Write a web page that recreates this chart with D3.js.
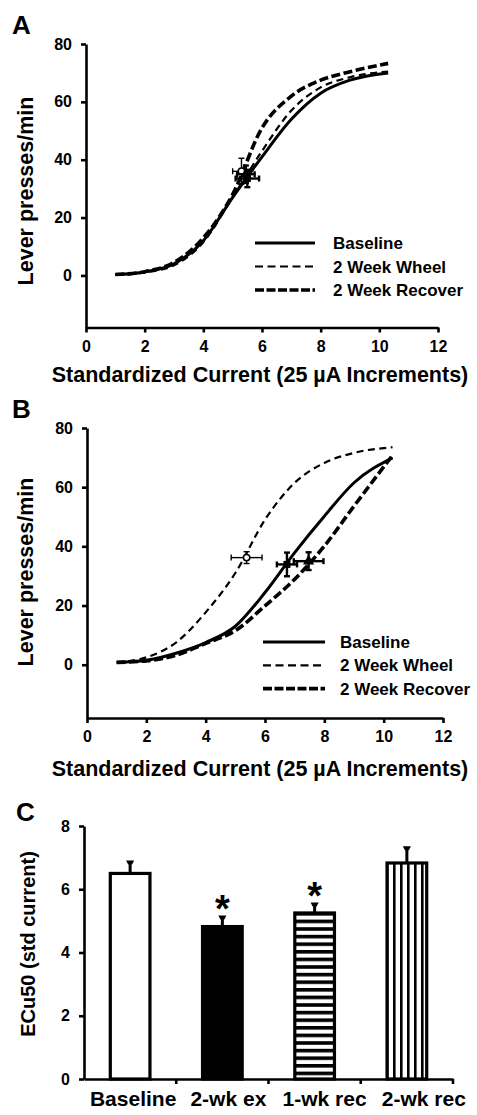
<!DOCTYPE html>
<html><head><meta charset="utf-8">
<script src="https://cdn.jsdelivr.net/npm/d3@7"></script>
<style>
body{margin:0;background:#fff;}
text{font-family:"Liberation Sans",Arial,sans-serif;font-weight:bold;fill:#000;}
</style></head>
<body><svg id="c" width="477" height="1115"></svg>
<script>
// ---------- data ----------
const xGrid = [1,2,3,4,5,6,7,8,9,10.3];
// Panel A curves
const baselineA = [0.3,1.2,4,12,27,41,54,63,67.5,70];
const wheelA    = [0.2,1.0,3.5,11.5,27,43,57,65,68.5,70.5];
const recoverA  = [0.3,1.3,4.5,13,28,51,62,67.5,70.4,73.3];
// Panel B curves
const baselineB = [0.8,1.5,3.9,7.5,13,24.4,37.9,50.2,61.5,69.9];
const wheelB    = [0.8,2.5,7.5,17.7,31,49,61.5,68.2,71.6,73.5];
const recoverB  = [0.8,1.3,3.2,7.2,11.5,19.9,28.9,40.1,53.6,70.8];
// EC50 points (x, y, x error, y error): baseline, wheel, recover
const ptsAx = [5.5,5.3,5.45], ptsAy = [33.5,36,35], ptsAxe = [0.4,0.3,0.3], ptsAye = [3,4.5,3];
const ptsBx = [6.74,5.38,7.47], ptsBy = [33.9,36.2,35], ptsBxe = [0.34,0.52,0.5], ptsBye = [4,2,3];
const seriesNames = ["Baseline","2 Week Wheel","2 Week Recover"];
const xTicks = [0,2,4,6,8,10,12];
const yTicks = [0,20,40,60,80];
// Panel C bars
const barCats = ["Baseline","2-wk ex","1-wk rec","2-wk rec"];
const barVals = [6.5,4.82,5.25,6.83];
const barErr  = [0.38,0.32,0.3,0.5];
const barSig  = [false,true,true,false];
const cTicks = [0,2,4,6,8];

const svg = d3.select("#c");
const defs = svg.append("defs");
const ph = defs.append("pattern").attr("id","hstripe").attr("patternUnits","userSpaceOnUse")
  .attr("width",10).attr("height",7.6);
ph.append("rect").attr("width",10).attr("height",7.6).attr("fill","#fff");
ph.append("rect").attr("width",10).attr("height",3.6).attr("fill","#000");
const pv = defs.append("pattern").attr("id","vstripe").attr("patternUnits","userSpaceOnUse")
  .attr("width",7).attr("height",10).attr("x",1);
pv.append("rect").attr("width",7).attr("height",10).attr("fill","#fff");
pv.append("rect").attr("width",2.6).attr("height",10).attr("fill","#000");

const styles = [
  {w:3, dash:null},
  {w:2.2, dash:"7,4.5"},
  {w:3.6, dash:"9,3.5"}
];

function styleAxis(a, size){
  a.select(".domain").attr("stroke","#000").attr("stroke-width",2.6);
  a.selectAll(".tick line").attr("stroke","#000").attr("stroke-width",2.6);
  a.selectAll(".tick text").style("font-size",size).style("font-family","Liberation Sans, Arial")
    .style("font-weight","bold").attr("fill","#000");
}

function curvePanel(o){
  const x = d3.scaleLinear().domain([0,12]).range([o.x0,o.x1]);
  const y = d3.scaleLinear().domain([-18,80]).range([o.yb,o.yt]);
  const g = svg.append("g");
  const ax = g.append("g").attr("transform",`translate(0,${o.yb})`)
    .call(d3.axisBottom(x).tickValues(xTicks).tickSize(5).tickSizeOuter(0).tickPadding(8));
  const ay = g.append("g").attr("transform",`translate(${o.x0},0)`)
    .call(d3.axisLeft(y).tickValues(yTicks).tickSize(5).tickSizeOuter(0).tickPadding(9));
  styleAxis(ax,"16px"); styleAxis(ay,"16px");
  const line = d3.line().x((d,i)=>x(xGrid[i])).y(d=>y(d)).curve(d3.curveMonotoneX);
  o.curves.forEach((c,i)=>{
    g.append("path").attr("d",line(c)).attr("fill","none").attr("stroke","#000")
      .attr("stroke-width",styles[i].w).attr("stroke-dasharray",styles[i].dash);
  });
  o.px.forEach((px,i)=>{
    const cx=x(px), cy=y(o.py[i]);
    const xl=x(px-o.pxe[i]), xr=x(px+o.pxe[i]);
    const yt=y(o.py[i]+o.pye[i]), yb=y(o.py[i]-o.pye[i]);
    const sw = i===1?1.4:2.4;
    g.append("line").attr("x1",xl).attr("x2",xr).attr("y1",cy).attr("y2",cy).attr("stroke","#000").attr("stroke-width",sw);
    g.append("line").attr("x1",cx).attr("x2",cx).attr("y1",yt).attr("y2",yb).attr("stroke","#000").attr("stroke-width",sw);
    [[xl,cy,0],[xr,cy,0],[cx,yt,1],[cx,yb,1]].forEach(([a,b,v])=>{
      if(v) g.append("line").attr("x1",a-3).attr("x2",a+3).attr("y1",b).attr("y2",b).attr("stroke","#000").attr("stroke-width",sw);
      else g.append("line").attr("x1",a).attr("x2",a).attr("y1",b-3).attr("y2",b+3).attr("stroke","#000").attr("stroke-width",sw);
    });
    if(i===1) g.append("circle").attr("cx",cx).attr("cy",cy).attr("r",3.2).attr("fill","#fff").attr("stroke","#000").attr("stroke-width",1.5);
    else if(i===0) g.append("rect").attr("x",cx-3.5).attr("y",cy-3.5).attr("width",7).attr("height",7).attr("fill","#000");
    else g.append("path").attr("d",d3.symbol(d3.symbolTriangle,55)()).attr("transform",`translate(${cx},${cy})`).attr("fill","#000");
  });
  seriesNames.forEach((n,i)=>{
    const ly = o.leg.y + i*o.leg.dy;
    g.append("line").attr("x1",o.leg.x0).attr("x2",o.leg.x1).attr("y1",ly).attr("y2",ly)
      .attr("stroke","#000").attr("stroke-width",styles[i].w).attr("stroke-dasharray",i===1?"8,4.5":(i===2?"9,2.5":null));
    g.append("text").attr("x",o.leg.tx).attr("y",ly+6).style("font-size","17px").text(n);
  });
  g.append("text").attr("x",o.lblX).attr("y",o.lblY).style("font-size","26px").text(o.label);
  g.append("text").attr("transform",`translate(${o.ylx},${o.yly}) rotate(-90)`).attr("text-anchor","middle")
    .style("font-size","21.5px").text("Lever presses/min");
  g.append("text").attr("x",o.xtx).attr("y",o.xty).attr("text-anchor","middle")
    .style("font-size","21.5px").text("Standardized Current (25 µA Increments)");
}

curvePanel({x0:86,x1:438,yb:327.5,yt:44,curves:[baselineA,wheelA,recoverA],
  px:ptsAx,py:ptsAy,pxe:ptsAxe,pye:ptsAye,
  leg:{x0:255,x1:315,tx:333,y:243,dy:23.5},label:"A",lblX:12,lblY:34,
  ylx:33,yly:191,xtx:260,xty:382});
curvePanel({x0:87,x1:443,yb:718,yt:428,curves:[baselineB,wheelB,recoverB],
  px:ptsBx,py:ptsBy,pxe:ptsBxe,pye:ptsBye,
  leg:{x0:263,x1:325,tx:340,y:642,dy:23.3},label:"B",lblX:12,lblY:418,
  ylx:33,yly:572,xtx:260,xty:776});

// ---------- Panel C ----------
(function(){
  const x = d3.scaleBand().domain(barCats).range([84,453]).paddingInner(0).paddingOuter(0);
  const y = d3.scaleLinear().domain([0,8]).range([1079,826]);
  const g = svg.append("g");
  const bw = x.bandwidth()*0.43;
  const fills = ["#fff","#000","url(#hstripe)","url(#vstripe)"];
  barCats.forEach((c,i)=>{
    const cx = x(c)+x.bandwidth()/2;
    const top = y(barVals[i]), et = y(barVals[i]+barErr[i]);
    g.append("line").attr("x1",cx).attr("x2",cx).attr("y1",top).attr("y2",et).attr("stroke","#000").attr("stroke-width",3);
    g.append("path").attr("d",`M${cx-4},${et-1}L${cx+4},${et-1}L${cx+2},${et+3}L${cx-2},${et+3}Z`).attr("fill","#000");
    g.append("rect").attr("x",cx-bw/2).attr("y",top).attr("width",bw).attr("height",y(0)-top)
      .attr("fill",fills[i]).attr("stroke","#000").attr("stroke-width",3.2);
    if(barSig[i]) g.append("text").attr("x",cx).attr("y",et+6).attr("text-anchor","middle")
      .style("font-size","38px").text("*");
  });
  const ax = g.append("g").attr("transform","translate(0,1079)")
    .call(d3.axisBottom(x).tickSize(0).tickPadding(12));
  const labelShift = [3,6,10,17];
  ax.selectAll(".tick text").attr("dx",(d,i)=>labelShift[i]);
  barCats.forEach((c,i)=>{
    const bx = x(c)+x.bandwidth();
    g.append("line").attr("x1",bx).attr("x2",bx).attr("y1",1079).attr("y2",1084).attr("stroke","#000").attr("stroke-width",2.6);
  });
  const ay = g.append("g").attr("transform","translate(84,0)")
    .call(d3.axisLeft(y).tickValues(cTicks).tickSize(5).tickSizeOuter(0).tickPadding(9));
  styleAxis(ax,"21px"); styleAxis(ay,"16px");
  g.append("text").attr("x",16).attr("y",821).style("font-size","26px").text("C");
  g.append("text").attr("transform","translate(35,944) rotate(-90)").attr("text-anchor","middle")
    .style("font-size","20px").text("ECu50 (std current)");
})();
</script></body></html>
